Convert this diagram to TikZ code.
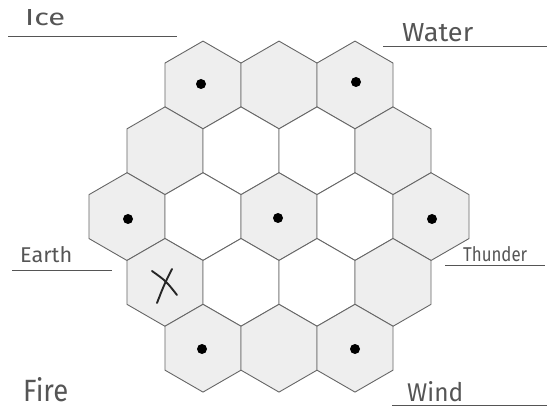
\documentclass[tikz,border=0pt]{standalone}
\usepackage{graphicx}
\usepackage{fontspec}
\setmainfont{Fira Sans}
\usetikzlibrary{shapes.geometric}
\definecolor{hexfill}{HTML}{EEEEEE}
\definecolor{hexline}{HTML}{666666}
\definecolor{ink}{HTML}{555555}
\begin{document}
\begin{tikzpicture}[x=1pt,y=-1pt,
  hexcell/.style={regular polygon, regular polygon sides=6, shape border rotate=30,
    minimum size=87.8pt, inner sep=0pt, outer sep=0pt, draw=hexline, line width=0.9pt},
  grayhex/.style={hexcell, fill=hexfill},
  whitehex/.style={hexcell, fill=white},
  token/.style={circle, fill=black, minimum size=10pt, inner sep=0pt},
  lbl/.style={anchor=base west, inner sep=0pt, text=ink},
  rule/.style={draw=ink, line width=0.9pt},
  xmark/.style={draw=black!85, line width=1.9pt, line cap=round}
]
\useasboundingbox (0,0) rectangle (547,409);

% row 0
\node[grayhex] (h00) at (203,85) {};
\node[grayhex] (h01) at (279,85) {};
\node[grayhex] (h02) at (355,85) {};
% row 1
\node[grayhex]  (h10) at (165,150.8) {};
\node[whitehex] (h11) at (241,150.8) {};
\node[whitehex] (h12) at (317,150.8) {};
\node[grayhex]  (h13) at (393,150.8) {};
% row 2
\node[grayhex]  (h20) at (127,216.6) {};
\node[whitehex] (h21) at (203,216.6) {};
\node[grayhex]  (h22) at (279,216.6) {};
\node[whitehex] (h23) at (355,216.6) {};
\node[grayhex]  (h24) at (431,216.6) {};
% row 3
\node[grayhex]  (h30) at (165,282.4) {};
\node[whitehex] (h31) at (241,282.4) {};
\node[whitehex] (h32) at (317,282.4) {};
\node[grayhex]  (h33) at (393,282.4) {};
% row 4
\node[grayhex] (h40) at (203,348.2) {};
\node[grayhex] (h41) at (279,348.2) {};
\node[grayhex] (h42) at (355,348.2) {};

% tokens
\node[token] (d1) at (201,84) {};
\node[token] (d2) at (356,82) {};
\node[token] (d3) at (128,219) {};
\node[token] (d4) at (278,218) {};
\node[token] (d5) at (432,219) {};
\node[token] (d6) at (202,349) {};
\node[token] (d7) at (355,349) {};

% X mark
\draw[xmark] (152,271) .. controls (166,281) .. (177,295);
\draw[xmark] (172,269) .. controls (164,285) .. (157,303);

% labels
\node[lbl] (ice) at (25,26) {\resizebox{40pt}{16pt}{Ice}};
\node[lbl] (water) at (402,41.5) {\resizebox{71pt}{18pt}{Water}};
\node[lbl] (earth) at (20,263) {\resizebox{52pt}{16pt}{Earth}};
\node[lbl] (thunder) at (463,261.5) {\resizebox{64pt}{15pt}{Thunder}};
\node[lbl] (fire) at (23,401) {\resizebox{45pt}{24pt}{Fire}};
\node[lbl] (wind) at (407,401) {\resizebox{56pt}{20pt}{Wind}};

% rules
\coordinate (iceA) at (8,36);     \coordinate (iceB) at (177,36);
\coordinate (watA) at (383,46);   \coordinate (watB) at (547,46);
\coordinate (earA) at (12,270.5); \coordinate (earB) at (112,270.5);
\coordinate (thuA) at (445,265);  \coordinate (thuB) at (545,265);
\coordinate (winA) at (392,405);  \coordinate (winB) at (547,405);
\draw[rule] (iceA) -- (iceB);
\draw[rule] (watA) -- (watB);
\draw[rule] (earA) -- (earB);
\draw[rule] (thuA) -- (thuB);
\draw[rule] (winA) -- (winB);
\end{tikzpicture}
\end{document}
